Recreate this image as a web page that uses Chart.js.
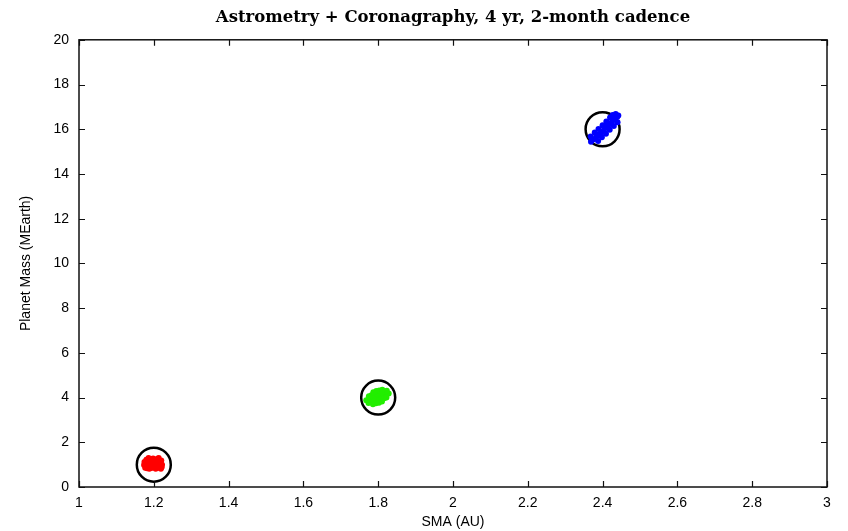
<!DOCTYPE html>
<html>
<head>
<meta charset="utf-8">
<script src="https://cdn.jsdelivr.net/npm/chart.js@4.4.0/dist/chart.umd.min.js"></script>
<style>
  html, body { margin: 0; padding: 0; background: #fff; }
  #wrap { width: 848px; height: 531px; }
</style>
</head>
<body>
<div id="wrap"><canvas id="myChart" width="848" height="531"></canvas></div>
<script>
// fitted orbits: semi-major axis (AU) and mass (Earth masses)
var redSma  = [1.174, 1.175, 1.177, 1.180, 1.181, 1.182, 1.186, 1.187, 1.188, 1.190, 1.192, 1.193, 1.194, 1.198, 1.199,
               1.200, 1.201, 1.204, 1.205, 1.206, 1.208, 1.210, 1.211, 1.212, 1.215, 1.216, 1.218, 1.220, 1.221, 1.222,
               1.184, 1.196, 1.213, 1.219, 1.178, 1.202];
var redMass = [0.98, 1.12, 0.86, 1.22, 0.96, 0.84, 1.30, 1.08, 0.82, 0.95, 1.20, 1.05, 0.85, 1.28, 1.12,
               0.90, 1.02, 1.22, 0.82, 1.10, 0.95, 1.26, 1.04, 0.86, 1.15, 0.92, 1.05, 1.18, 0.88, 1.00,
               1.10, 0.98, 1.30, 0.82, 1.04, 1.14];

var greenSma  = [1.768, 1.774, 1.780, 1.786, 1.792, 1.798, 1.804, 1.810, 1.816, 1.822, 1.828,
                 1.775, 1.782, 1.789, 1.796, 1.803, 1.810, 1.817, 1.823,
                 1.774, 1.781, 1.788, 1.795, 1.802, 1.809, 1.816, 1.822,
                 1.787, 1.795, 1.803, 1.811, 1.786, 1.794, 1.802, 1.810];
var greenMass = [3.88, 3.91, 3.94, 3.97, 4.00, 4.03, 4.06, 4.09, 4.12, 4.15, 4.18,
                 4.06, 4.10, 4.13, 4.16, 4.20, 4.23, 4.27, 4.30,
                 3.76, 3.80, 3.82, 3.86, 3.90, 3.93, 3.97, 4.00,
                 4.24, 4.29, 4.32, 4.35, 3.70, 3.74, 3.77, 3.82];

var blueSma  = [2.369, 2.376, 2.383, 2.390, 2.397, 2.404, 2.411, 2.418, 2.425, 2.432, 2.439,
                2.388, 2.398, 2.409, 2.419, 2.430, 2.440,
                2.368, 2.379, 2.389, 2.400, 2.410, 2.420, 2.427,
                2.435, 2.442, 2.372, 2.393, 2.414];
var blueMass = [15.44, 15.55, 15.66, 15.77, 15.88, 15.99, 16.11, 16.22, 16.33, 16.44, 16.55,
                15.47, 15.64, 15.80, 15.98, 16.14, 16.31,
                15.68, 15.85, 16.01, 16.18, 16.35, 16.52, 16.64,
                16.68, 16.62, 15.52, 15.75, 16.24];

// true planets
var trueSma  = [1.2, 1.8, 2.4];
var trueMass = [1, 4, 16];

var xTickLabels = ['1', '1.2', '1.4', '1.6', '1.8', '2', '2.2', '2.4', '2.6', '2.8', '3'];
var yTickLabels = ['0', '2', '4', '6', '8', '10', '12', '14', '16', '18', '20'];

function toPoints(xs, ys) {
    var pts = [];
    for (var i = 0; i < xs.length; i++) pts.push({ x: xs[i], y: ys[i] });
    return pts;
}

function cloud(label, xs, ys, color) {
    return {
        label: label,
        data: toPoints(xs, ys),
        backgroundColor: color,
        borderColor: color,
        borderWidth: 0,
        pointRadius: 3
    };
}

// inward tick marks on all four sides plus the plot frame
var frameTicks = {
    id: 'frameTicks',
    afterDraw: function (chart) {
        var ctx = chart.ctx, a = chart.chartArea;
        var xs = chart.scales.x, ys = chart.scales.y;
        var len = 6;
        ctx.save();
        ctx.strokeStyle = '#111';
        ctx.lineWidth = 1.2;
        ctx.beginPath();
        xs.ticks.forEach(function (t) {
            var px = Math.round(xs.getPixelForValue(t.value)) + 0.5;
            ctx.moveTo(px, a.bottom); ctx.lineTo(px, a.bottom - len);
            ctx.moveTo(px, a.top); ctx.lineTo(px, a.top + len);
        });
        ys.ticks.forEach(function (t) {
            var py = Math.round(ys.getPixelForValue(t.value)) + 0.5;
            ctx.moveTo(a.left, py); ctx.lineTo(a.left + len, py);
            ctx.moveTo(a.right, py); ctx.lineTo(a.right - len, py);
        });
        ctx.stroke();
        ctx.lineWidth = 1.5;
        ctx.strokeRect(a.left, a.top, a.right - a.left, a.bottom - a.top);
        ctx.restore();
    }
};

var sans = { family: 'Liberation Sans', size: 14 };

var config = {
    type: 'scatter',
    data: {
        datasets: [
            cloud('1.2 AU', redSma, redMass, '#ff0000'),
            cloud('1.8 AU', greenSma, greenMass, '#22ee00'),
            cloud('2.4 AU', blueSma, blueMass, '#0000ff'),
            {
                label: 'true',
                data: toPoints(trueSma, trueMass),
                backgroundColor: 'rgba(0,0,0,0)',
                borderColor: '#000',
                borderWidth: 2.5,
                pointRadius: 17,
                pointHoverRadius: 17
            }
        ]
    },
    options: {
        responsive: false,
        animation: false,
        layout: { padding: { top: 0, right: 21, bottom: 0, left: 0 } },
        plugins: {
            legend: { display: false },
            tooltip: { enabled: false },
            title: {
                display: true,
                fullSize: false,
                text: 'Astrometry + Coronagraphy, 4 yr, 2-month cadence',
                color: '#000',
                font: { family: 'DejaVu Serif', size: 16.5, weight: 'bold' },
                padding: { top: 8, bottom: 12 }
            }
        },
        scales: {
            x: {
                type: 'linear',
                min: 1, max: 3,
                afterFit: function (s) { s.height = 44; },
                grid: { display: false, drawTicks: false },
                border: { display: false },
                ticks: {
                    stepSize: 0.2,
                    padding: 8,
                    color: '#000',
                    font: sans,
                    callback: function (v, i) { return xTickLabels[i]; }
                },
                title: {
                    display: true,
                    text: 'SMA (AU)',
                    color: '#000',
                    font: sans,
                    padding: { top: 0, bottom: 0 }
                }
            },
            y: {
                type: 'linear',
                min: 0, max: 20,
                afterFit: function (s) { s.width = 79; },
                grid: { display: false, drawTicks: false },
                border: { display: false },
                ticks: {
                    stepSize: 2,
                    padding: 10,
                    color: '#000',
                    font: sans,
                    callback: function (v, i) { return yTickLabels[i]; }
                },
                title: {
                    display: true,
                    text: 'Planet Mass (MEarth)',
                    color: '#000',
                    font: sans,
                    padding: { top: 18, bottom: 0 }
                }
            }
        }
    },
    plugins: [frameTicks]
};

var chartRef = new Chart(document.getElementById('myChart'), config);
</script>
</body>
</html>
